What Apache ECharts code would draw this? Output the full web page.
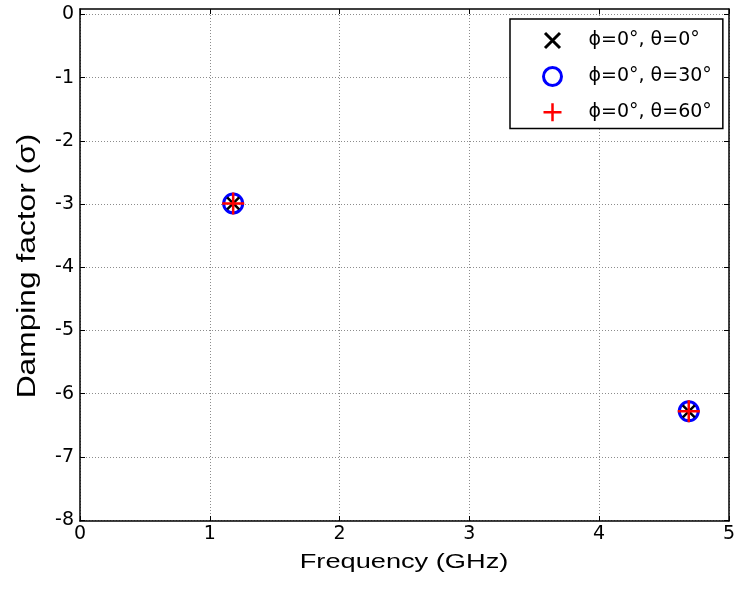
<!DOCTYPE html>
<html>
<head>
<meta charset="utf-8">
<script src="https://cdn.jsdelivr.net/npm/echarts@6/dist/echarts.min.js"></script>
<style>html,body{margin:0;padding:0;background:#fff}#c{width:738px;height:592px}</style>
</head>
<body>
<div id="c"></div>
<script>
// ---- data ----
const seriesNames = ['ϕ=0°, θ=0°', 'ϕ=0°, θ=30°', 'ϕ=0°, θ=60°'];
const freqTheta0 = [1.18, 4.69];
const dampTheta0 = [-2.99, -6.28];
const freqTheta30 = [1.18, 4.69];
const dampTheta30 = [-2.99, -6.28];
const freqTheta60 = [1.18, 4.69];
const dampTheta60 = [-2.99, -6.28];
const xTicks = [0, 1, 2, 3, 4, 5];
const yTicks = [-8, -7, -6, -5, -4, -3, -2, -1, 0];
const xTitle = 'Frequency (GHz)';
const yTitle = 'Damping factor (σ)';

const FONT = 'Liberation Sans, Arial, sans-serif';
const TICKFONT = 'DejaVu Sans, sans-serif';
const pair = (xs, ys) => xs.map((x, i) => [x, ys[i]]);

const xPath = 'path://M0 0L10 10M10 0L0 10';
const xPathLegend = 'path://M-1 -1M11 11M0 0L10 10M10 0L0 10';
const plusPath = 'path://M0 5L10 5M5 0L5 10';

const grid = [
  {left: 80, right: 9, top: 9, bottom: 71},
  {left: 80, right: 9, top: 14.5, bottom: 72}
];
const lineStyleFrame = {color: '#000', width: 1.5};
const splitStyle = {show: true, lineStyle: {color: '#8c8c8c', type: [1, 2], width: 1}};
const tickStyle = {show: true, inside: true, length: 5, lineStyle: {color: '#000', width: 1}};

const chart = echarts.init(document.getElementById('c'), null, {renderer: 'canvas'});
chart.setOption({
  animation: false,
  backgroundColor: '#fff',
  grid: grid,
  graphic: [
    {type: 'text', x: 404, y: 562, scaleX: 1.36, silent: true,
     style: {text: xTitle, fontSize: 20, fontFamily: FONT, fill: '#000',
             align: 'center', verticalAlign: 'middle', textAlign: 'center', textVerticalAlign: 'middle'}},
    {type: 'text', x: 28, y: 266, rotation: Math.PI / 2, scaleX: 1.22, silent: true,
     style: {text: yTitle, fontSize: 26, fontFamily: FONT, fill: '#000',
             align: 'center', verticalAlign: 'middle', textAlign: 'center', textVerticalAlign: 'middle'}}
  ],
  xAxis: [
    {gridIndex: 0, type: 'value', position: 'bottom', min: xTicks[0], max: xTicks[xTicks.length-1], interval: 1,
     axisLine: {show: true, onZero: false, lineStyle: lineStyleFrame},
     axisTick: tickStyle,
     axisLabel: {show: true, color: '#000', fontSize: 19, fontFamily: TICKFONT, margin: 4},
     splitLine: splitStyle},
    {gridIndex: 0, type: 'value', position: 'top', min: xTicks[0], max: xTicks[xTicks.length-1], interval: 1,
     axisLine: {show: true, onZero: false, lineStyle: lineStyleFrame},
     axisTick: tickStyle,
     axisLabel: {show: false}, splitLine: {show: false}},
    {gridIndex: 1, type: 'value', min: xTicks[0], max: xTicks[xTicks.length-1], show: false}
  ],
  yAxis: [
    {gridIndex: 0, type: 'value', position: 'left', min: 0, max: 1,
     axisLine: {show: true, onZero: false, lineStyle: lineStyleFrame},
     axisTick: {show: false}, axisLabel: {show: false}, splitLine: {show: false}},
    {gridIndex: 0, type: 'value', position: 'right', min: 0, max: 1,
     axisLine: {show: true, onZero: false, lineStyle: lineStyleFrame},
     axisTick: {show: false}, axisLabel: {show: false}, splitLine: {show: false}},
    {gridIndex: 1, type: 'value', position: 'left', min: yTicks[0], max: yTicks[yTicks.length-1], interval: 1,
     axisLine: {show: false},
     axisTick: tickStyle,
     axisLabel: {show: true, color: '#000', fontSize: 19, fontFamily: TICKFONT, margin: 6},
     splitLine: splitStyle},
    {gridIndex: 1, type: 'value', position: 'right', min: yTicks[0], max: yTicks[yTicks.length-1], interval: 1,
     axisLine: {show: false},
     axisTick: tickStyle,
     axisLabel: {show: false}, splitLine: {show: false}}
  ],
  legend: {
    orient: 'vertical', left: 510, top: 19,
    backgroundColor: '#fff', borderColor: '#000', borderWidth: 1.5, borderRadius: 0,
    padding: [11, 11, 6, 32], itemGap: 15, itemWidth: 62, itemHeight: 18,
    selectedMode: false,
    textStyle: {color: '#000', fontSize: 19, fontFamily: TICKFONT},
    data: [
      {name: seriesNames[0], icon: xPathLegend, itemStyle: {color: '#000', borderColor: '#000', borderWidth: 3}},
      {name: seriesNames[1], icon: 'circle', itemStyle: {color: 'rgba(0,0,0,0)', borderColor: '#0000ff', borderWidth: 3}},
      {name: seriesNames[2], icon: plusPath, itemStyle: {color: '#ff0000', borderColor: '#ff0000', borderWidth: 2.5}}
    ]
  },
  series: [
    {name: seriesNames[1], type: 'scatter', xAxisIndex: 2, yAxisIndex: 2, z: 2,
     data: pair(freqTheta30, dampTheta30), symbol: 'circle', symbolSize: 19,
     itemStyle: {color: 'rgba(0,0,0,0)', borderColor: '#0000ff', borderWidth: 3, opacity: 1}},
    {name: seriesNames[0], type: 'scatter', xAxisIndex: 2, yAxisIndex: 2, z: 3,
     data: pair(freqTheta0, dampTheta0), symbol: xPath, symbolSize: 12,
     itemStyle: {color: '#000', borderColor: '#000', borderWidth: 2.5, opacity: 1}},
    {name: seriesNames[2], type: 'scatter', xAxisIndex: 2, yAxisIndex: 2, z: 4,
     data: pair(freqTheta60, dampTheta60), symbol: plusPath, symbolSize: 22,
     itemStyle: {color: '#ff0000', borderColor: '#ff0000', borderWidth: 2.5, opacity: 1}}
  ]
});
</script>
</body>
</html>
